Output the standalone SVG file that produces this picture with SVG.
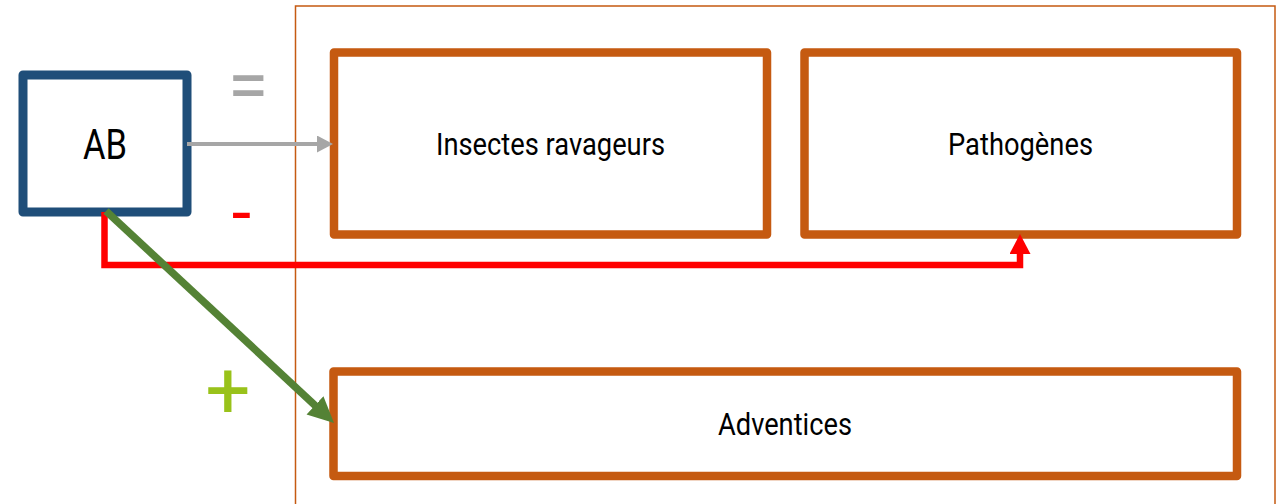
<svg xmlns="http://www.w3.org/2000/svg" width="1286" height="504" viewBox="0 0 1286 504">
  <style>
    .frame { fill: none; stroke: #c55a11; stroke-width: 1.5; }
    .box { fill: #ffffff; stroke: #c55a11; stroke-width: 8.5; stroke-linejoin: round; }
    .src { fill: #ffffff; stroke: #1f4e79; stroke-width: 9; stroke-linejoin: round; }
    .lbl { font-family: Roboto, "Liberation Sans", sans-serif; fill: #000000; text-anchor: start; }
    .sym { font-family: Roboto, "Liberation Sans", sans-serif; text-anchor: middle; }
  </style>
  <defs>
    <marker id="headGray" markerUnits="userSpaceOnUse" markerWidth="16" markerHeight="17" refX="8" refY="8.5" orient="auto">
      <path d="M0,0 L16,8.5 L0,17 z" fill="#a6a6a6"/>
    </marker>
    <marker id="headRed" markerUnits="userSpaceOnUse" markerWidth="20" markerHeight="21" refX="6" refY="10.5" orient="auto">
      <path d="M0,0 L20,10.5 L0,21 z" fill="#ff0000"/>
    </marker>
    <marker id="headGreen" markerUnits="userSpaceOnUse" markerWidth="26" markerHeight="25" refX="16" refY="12.4" orient="auto">
      <path d="M0,0 L26,12.4 L0,24.8 z" fill="#548235"/>
    </marker>
  </defs>

  <!-- enclosing frame for the target groups -->
  <rect class="frame" x="295.5" y="6" width="979.5" height="520"/>

  <g id="node-ab">
    <rect class="src" x="23" y="75" width="164" height="137"/>
    <text class="lbl" x="83" y="159" font-size="43" textLength="44" lengthAdjust="spacingAndGlyphs">AB</text>
  </g>

  <g id="node-insectes">
    <rect class="box" x="334" y="52.5" width="433" height="182"/>
    <text class="lbl" x="436" y="154.5" font-size="31" textLength="229" lengthAdjust="spacingAndGlyphs">Insectes ravageurs</text>
  </g>

  <g id="node-pathogenes">
    <rect class="box" x="804.5" y="52.5" width="432.5" height="182"/>
    <text class="lbl" x="948" y="154.5" font-size="31" textLength="145" lengthAdjust="spacingAndGlyphs">Pathogènes</text>
  </g>

  <g id="node-adventices">
    <rect class="box" x="333.5" y="371.5" width="903.5" height="104.5"/>
    <text class="lbl" x="718" y="434.5" font-size="31" textLength="134" lengthAdjust="spacingAndGlyphs">Adventices</text>
  </g>

  <g id="connectors">
    <line x1="187" y1="144" x2="325" y2="144" stroke="#a6a6a6" stroke-width="4" marker-end="url(#headGray)"/>
    <polyline points="104.5,212 104.5,265 1020,265 1020,248" fill="none" stroke="#ff0000" stroke-width="6.5" marker-end="url(#headRed)"/>
    <line x1="106" y1="211" x2="326.7" y2="416.2" stroke="#548235" stroke-width="7.5" marker-end="url(#headGreen)"/>
  </g>

  <g id="signs">
    <text class="sym" x="248" y="110" font-size="74" fill="#a6a6a6">=</text>
    <text class="sym" x="241.5" y="237" font-size="70" fill="#ff0000">-</text>
    <text class="sym" x="228" y="417.5" font-size="80" fill="#99c21a">+</text>
  </g>
</svg>
